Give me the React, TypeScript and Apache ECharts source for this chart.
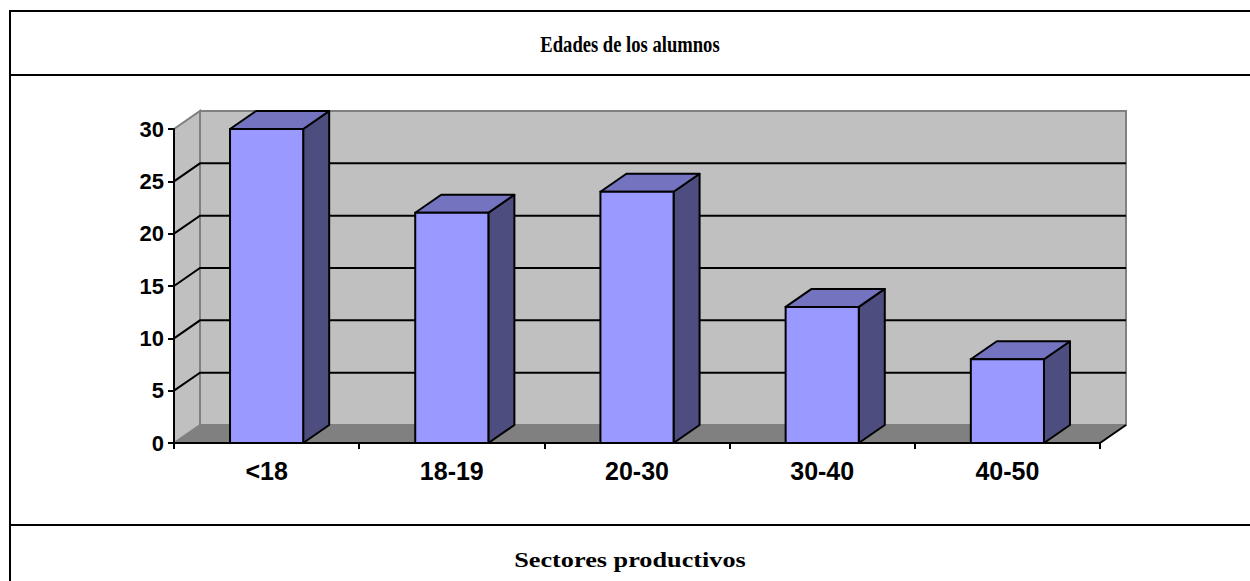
import React, { useEffect, useRef } from "react";
import * as echarts from "echarts";

const categories = ["<18", "18-19", "20-30", "30-40", "40-50"];
const values = [30, 22, 24, 13, 8];
const yTicks = [0, 5, 10, 15, 20, 25, 30];
const chartTitle = "Edades de los alumnos";
const nextTitle = "Sectores productivos";

const DX = 26;
const DY = -18;

export default function App() {
  const ref = useRef<HTMLDivElement>(null);
  useEffect(() => {
    document.body.style.margin = "0";
    if (!ref.current) return;
    const chart = echarts.init(ref.current, null, { renderer: "svg" });
    const yMin = yTicks[0];
    const yMax = yTicks[yTicks.length - 1];
    const step = yTicks[1] - yTicks[0];

    const option: any = {
      animation: false,
      backgroundColor: "#ffffff",
      grid: { left: 174, right: 150, top: 129, bottom: 138, containLabel: false },
      xAxis: {
        type: "category",
        data: categories,
        z: 10,
        axisLine: { show: true, lineStyle: { color: "#000", width: 2 } },
        axisTick: { show: true, length: 6, lineStyle: { color: "#000", width: 2 } },
        axisLabel: {
          color: "#000",
          fontFamily: "Liberation Sans",
          fontWeight: "bold",
          fontSize: 25,
          margin: 15,
        },
        splitLine: { show: false },
      },
      yAxis: {
        type: "value",
        min: yMin,
        max: yMax,
        interval: step,
        z: 10,
        axisLine: { show: true, lineStyle: { color: "#000", width: 2 } },
        axisTick: { show: true, length: 6, lineStyle: { color: "#000", width: 2 } },
        axisLabel: {
          color: "#000",
          fontFamily: "Liberation Sans",
          fontWeight: "bold",
          fontSize: 22,
          margin: 10,
        },
        splitLine: { show: false },
      },
      series: [
        {
          type: "custom",
          z: 1,
          clip: false,
          silent: true,
          data: [[0, 0]],
          encode: { x: 0, y: 1 },
          renderItem: (params: any, api: any) => {
            const cs = params.coordSys;
            const x0 = cs.x;
            const x1 = cs.x + cs.width;
            const yb = api.coord([0, yMin])[1];
            const yt = api.coord([0, yMax])[1];
            const children: any[] = [
              {
                type: "polygon",
                shape: { points: [[x0, yb], [x1, yb], [x1 + DX, yb + DY], [x0 + DX, yb + DY]] },
                style: { fill: "#808080", stroke: "#808080", lineWidth: 1 },
              },
              {
                type: "rect",
                shape: { x: x0 + DX, y: yt + DY, width: x1 - x0, height: yb - yt },
                style: { fill: "#C0C0C0", stroke: "#808080", lineWidth: 2 },
              },
              {
                type: "polygon",
                shape: { points: [[x0, yb], [x0, yt], [x0 + DX, yt + DY], [x0 + DX, yb + DY]] },
                style: { fill: "#C0C0C0", stroke: "#808080", lineWidth: 2 },
              },
            ];
            yTicks.forEach((t) => {
              if (t === yMin || t === yMax) return;
              const y = api.coord([0, t])[1];
              children.push({
                type: "polyline",
                shape: { points: [[x0, y], [x0 + DX, y + DY], [x1 + DX, y + DY]] },
                style: { stroke: "#000", lineWidth: 2, fill: null },
              });
            });
            children.push({
              type: "line",
              shape: { x1: x1, y1: yb, x2: x1 + DX, y2: yb + DY },
              style: { stroke: "#000", lineWidth: 2 },
            });
            return { type: "group", children };
          },
        },
        {
          type: "custom",
          z: 3,
          clip: false,
          data: values.map((v, i) => [i, v]),
          encode: { x: 0, y: 1 },
          renderItem: (params: any, api: any) => {
            const i = api.value(0);
            const v = api.value(1);
            const top = api.coord([i, v]);
            const bot = api.coord([i, yMin]);
            const bw = api.size([1, 0])[0] * 0.395;
            const l = top[0] - bw / 2;
            const r = top[0] + bw / 2;
            const ty = top[1];
            const by = bot[1];
            return {
              type: "group",
              children: [
                {
                  type: "polygon",
                  shape: { points: [[r, ty], [r + DX, ty + DY], [r + DX, by + DY], [r, by]] },
                  style: { fill: "#4D4D80", stroke: "#000", lineWidth: 2, lineJoin: "round" },
                },
                {
                  type: "polygon",
                  shape: { points: [[l, ty], [r, ty], [r + DX, ty + DY], [l + DX, ty + DY]] },
                  style: { fill: "#7373C0", stroke: "#000", lineWidth: 2, lineJoin: "round" },
                },
                {
                  type: "rect",
                  shape: { x: l, y: ty, width: bw, height: by - ty },
                  style: { fill: "#9999FF", stroke: "#000", lineWidth: 2 },
                },
              ],
            };
          },
        },
      ],
      graphic: [
        { type: "line", shape: { x1: 10, y1: 10, x2: 10, y2: 581 }, style: { stroke: "#000", lineWidth: 2 } },
        { type: "line", shape: { x1: 9, y1: 11, x2: 1250, y2: 11 }, style: { stroke: "#000", lineWidth: 2 } },
        { type: "line", shape: { x1: 9, y1: 75, x2: 1250, y2: 75 }, style: { stroke: "#000", lineWidth: 2 } },
        { type: "line", shape: { x1: 9, y1: 525, x2: 1250, y2: 525 }, style: { stroke: "#000", lineWidth: 2 } },
        {
          type: "text",
          x: 630,
          y: 44,
          scaleX: 0.775,
          style: {
            text: chartTitle,
            fill: "#000",
            font: 'bold 24px "Liberation Serif"',
            textAlign: "center",
            textVerticalAlign: "middle",
            align: "center",
            verticalAlign: "middle",
          },
        },
        {
          type: "text",
          x: 630,
          y: 560,
          scaleX: 1.25,
          style: {
            text: nextTitle,
            fill: "#000",
            font: 'bold 21px "Liberation Serif"',
            textAlign: "center",
            textVerticalAlign: "middle",
            align: "center",
            verticalAlign: "middle",
          },
        },
      ],
    };
    chart.setOption(option);
    return () => chart.dispose();
  }, []);
  return <div ref={ref} style={{ width: 1250, height: 581 }} />;
}
